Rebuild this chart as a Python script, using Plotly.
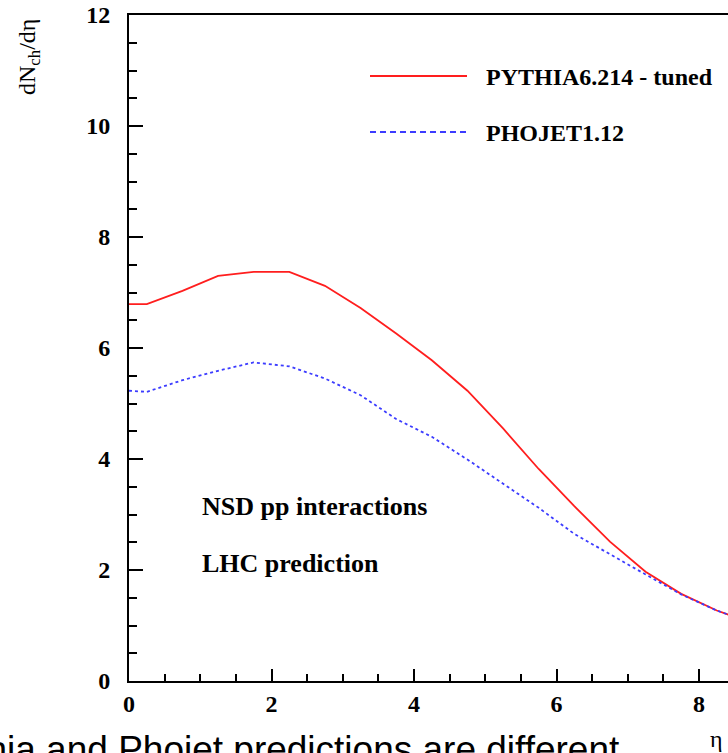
import plotly.graph_objects as go

# Pseudorapidity points
eta = [0.0, 0.25, 0.75, 1.25, 1.75, 2.25, 2.75, 3.25, 3.75, 4.25, 4.75,
       5.25, 5.75, 6.25, 6.75, 7.25, 7.75, 8.25, 8.75]
# dNch/deta, PYTHIA6.214 tuned
pythia = [6.79, 6.79, 7.03, 7.30, 7.37, 7.37, 7.12, 6.72, 6.26, 5.78, 5.23,
          4.55, 3.82, 3.15, 2.51, 1.97, 1.57, 1.27, 1.04]
# dNch/deta, PHOJET1.12
phojet = [5.23, 5.21, 5.42, 5.59, 5.74, 5.67, 5.45, 5.15, 4.72, 4.40, 3.99,
          3.56, 3.12, 2.65, 2.28, 1.92, 1.56, 1.27, 1.04]

series_names = ["PYTHIA6.214 - tuned", "PHOJET1.12"]
x_ticks = [0, 2, 4, 6, 8]
y_ticks = [0, 2, 4, 6, 8, 10, 12]

W, H = 728, 753
L, R, T, B = 129, 0, 15, 72
pw, ph = W - L - R, H - T - B


def px(x):
    return (x - L) / pw


def py(y):
    return (H - B - y) / ph


RED = "rgb(255,30,30)"
BLUE = "rgb(60,60,255)"
SERIF = "Liberation Serif"

fig = go.Figure()
fig.add_trace(go.Scatter(x=eta, y=pythia, mode="lines", name=series_names[0],
                         line=dict(color=RED, width=1.8), showlegend=False))
fig.add_trace(go.Scatter(x=eta, y=phojet, mode="lines", name=series_names[1],
                         line=dict(color=BLUE, width=1.8, dash="3px,3px"),
                         showlegend=False))

axis_common = dict(
    showgrid=False, zeroline=False, showline=True, linecolor="black",
    linewidth=2, ticks="inside", tickcolor="black", tickwidth=2,
    tickfont=dict(family=SERIF, size=24, color="black", weight="bold"),
)

fig.update_xaxes(range=[0, pw / 71.25], tickvals=x_ticks, ticklen=12,
                 mirror=True,
                 minor=dict(ticks="inside", ticklen=7, dtick=0.5,
                            tickcolor="black", tickwidth=2, showgrid=False),
                 ticklabelstandoff=0, **axis_common)
fig.update_yaxes(range=[0, 12], tickvals=y_ticks, ticklen=14,
                 minor=dict(ticks="inside", ticklen=8, dtick=0.5,
                            tickcolor="black", tickwidth=2, showgrid=False),
                 ticklabelstandoff=12, **axis_common)

# Legend drawn manually
for (yy, col, dash, name) in [(76, RED, "solid", series_names[0]),
                              (132, BLUE, "6px,4px", series_names[1])]:
    fig.add_shape(type="line", xref="paper", yref="paper",
                  x0=px(370), x1=px(467), y0=py(yy), y1=py(yy),
                  line=dict(color=col, width=1.8, dash=dash))
    fig.add_annotation(xref="paper", yref="paper", x=px(484), y=py(yy + 1),
                       xanchor="left", yanchor="middle", showarrow=False,
                       text=name,
                       font=dict(family=SERIF, size=24, color="black",
                                 weight="bold"))

for (yy, txt) in [(506, "NSD pp interactions"), (563, "LHC prediction")]:
    fig.add_annotation(xref="paper", yref="paper", x=px(200), y=py(yy),
                       xanchor="left", yanchor="middle", showarrow=False,
                       text=txt,
                       font=dict(family=SERIF, size=26, color="black",
                                 weight="bold"))

# y-axis title
fig.add_annotation(xref="paper", yref="paper", x=px(29), y=py(57),
                   xanchor="center", yanchor="middle", showarrow=False,
                   textangle=-90, text="dN<sub>ch</sub>/dη",
                   font=dict(family=SERIF, size=24, color="black"))
# x-axis title
fig.add_annotation(xref="paper", yref="paper", x=px(716), y=py(754),
                   xanchor="center", yanchor="bottom", showarrow=False,
                   text="η", font=dict(family=SERIF, size=24, color="black"))

# caption (cut off in the original slide)
fig.add_annotation(xref="paper", yref="paper", x=px(622), y=py(727),
                   xanchor="right", yanchor="top", showarrow=False,
                   text="Pythia and Phojet predictions are different",
                   font=dict(family="Liberation Sans", size=37, color="black"))

fig.update_layout(width=W, height=H, margin=dict(l=L, r=R, t=T, b=B),
                  paper_bgcolor="white", plot_bgcolor="white")

fig.write_html("out.html")
